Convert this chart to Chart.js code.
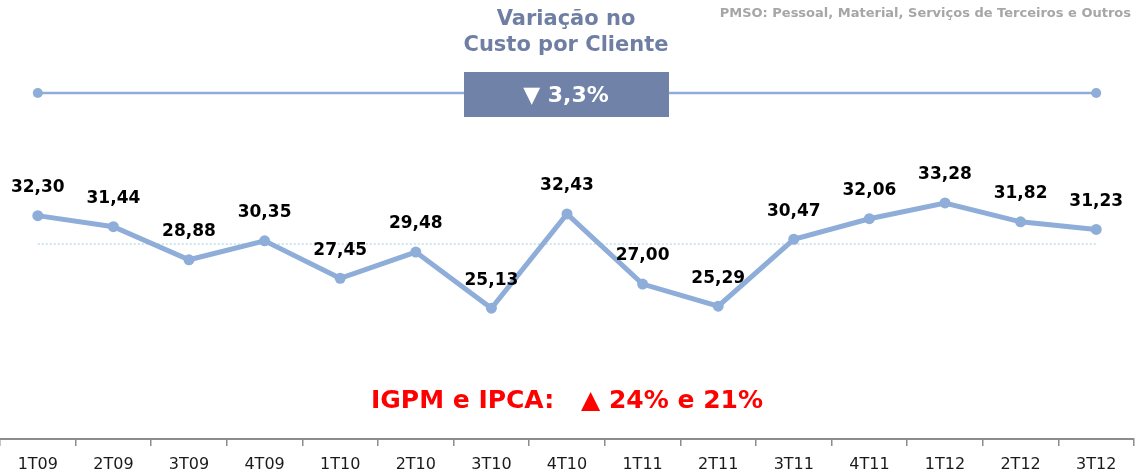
<!DOCTYPE html>
<html>
<head>
<meta charset="utf-8">
<script src="https://cdn.jsdelivr.net/npm/chart.js@4/dist/chart.umd.min.js"></script>
<style>
html,body{margin:0;padding:0;background:#fff;}
#wrap{position:relative;width:1139px;height:473px;}
</style>
</head>
<body>
<div id="wrap"><canvas id="c" width="1139" height="473"></canvas></div>
<script>
const categories = ["1T09","2T09","3T09","4T09","1T10","2T10","3T10","4T10","1T11","2T11","3T11","4T11","1T12","2T12","3T12"];
const custoPorCliente = [32.30,31.44,28.88,30.35,27.45,29.48,25.13,32.43,27.00,25.29,30.47,32.06,33.28,31.82,31.23];
const referenceLevel = [30.1,30.1,30.1,30.1,30.1,30.1,30.1,30.1,30.1,30.1,30.1,30.1,30.1,30.1,30.1];
const variationLine = [41.8,41.8,41.8,41.8,41.8,41.8,41.8,41.8,41.8,41.8,41.8,41.8,41.8,41.8,41.8];
const titleLines = ["Variação no","Custo por Cliente"];
const variationText = "▼ 3,3%";
const noteText = "PMSO: Pessoal, Material, Serviços de Terceiros e Outros";
const inflationLabel = "IGPM e IPCA:";
const inflationValue = "▲ 24% e 21%";

const FONT = "'DejaVu Sans', Verdana, sans-serif";
const lineBlue = "#8EADD8";

const overlay = {
  id: 'overlay',
  afterDatasetsDraw(chart) {
    const ctx = chart.ctx;
    const meta = chart.getDatasetMeta(0);
    ctx.save();
    ctx.fillStyle = '#000';
    ctx.font = "bold 17px " + FONT;
    ctx.textAlign = 'center';
    ctx.textBaseline = 'middle';
    meta.data.forEach((p, i) => {
      ctx.fillText(custoPorCliente[i].toFixed(2).replace('.', ','), p.x, p.y - 28);
    });
    const cx = 566;
    ctx.fillStyle = '#6F7FA3';
    ctx.font = "bold 21px " + FONT;
    ctx.fillText(titleLines[0], cx, 20);
    ctx.fillText(titleLines[1], cx, 46);
    ctx.fillStyle = '#7082A8';
    ctx.fillRect(464, 72, 205, 45);
    ctx.fillStyle = '#fff';
    ctx.font = "bold 22px " + FONT;
    ctx.fillText(variationText, cx, 96);
    ctx.textAlign = 'right';
    ctx.fillStyle = '#A6A6A6';
    ctx.font = "bold 13px " + FONT;
    ctx.fillText(noteText, 1131, 14);
    ctx.fillStyle = '#FF0000';
    ctx.font = "bold 25px " + FONT;
    ctx.textAlign = 'left';
    ctx.fillText(inflationLabel, 371, 401);
    ctx.textAlign = 'right';
    ctx.fillText(inflationValue, 763, 401);
    ctx.restore();
  }
};

new Chart(document.getElementById('c'), {
  type: 'line',
  data: {
    labels: categories,
    datasets: [
      {
        data: custoPorCliente,
        borderColor: lineBlue,
        backgroundColor: lineBlue,
        borderWidth: 5,
        pointRadius: 5.5,
        pointBorderWidth: 0,
        pointBackgroundColor: lineBlue,
        tension: 0,
        order: 1
      },
      {
        data: referenceLevel,
        borderColor: '#9CCFE0',
        borderWidth: 1,
        borderDash: [2, 2],
        pointRadius: 0,
        order: 3
      },
      {
        data: variationLine,
        borderColor: lineBlue,
        backgroundColor: lineBlue,
        borderWidth: 2.5,
        pointRadius: variationLine.map((v, i) => (i === 0 || i === variationLine.length - 1) ? 5 : 0),
        pointBorderWidth: 0,
        pointBackgroundColor: lineBlue,
        order: 2
      }
    ]
  },
  options: {
    responsive: false,
    animation: false,
    events: [],
    layout: { autoPadding: false, padding: { left: 0, right: 5, top: 0, bottom: 0 } },
    plugins: { legend: { display: false }, tooltip: { enabled: false }, title: { display: false } },
    scales: {
      x: {
        offset: true,
        grid: { offset: true, drawOnChartArea: false, drawTicks: true, tickLength: 7, color: '#8C8C8C', lineWidth: 1.5 },
        border: { display: true, color: '#8C8C8C', width: 2 },
        ticks: { color: '#1a1a1a', font: { family: FONT, size: 16, lineHeight: 1 }, padding: 11, maxRotation: 0, autoSkip: false },
        afterFit(scale) {
          scale.height = 34;
          scale.paddingLeft = 0;
          scale.paddingRight = 0;
        }
      },
      y: {
        display: false,
        min: 15,
        max: 49
      }
    }
  },
  plugins: [overlay]
});
</script>
</body>
</html>
